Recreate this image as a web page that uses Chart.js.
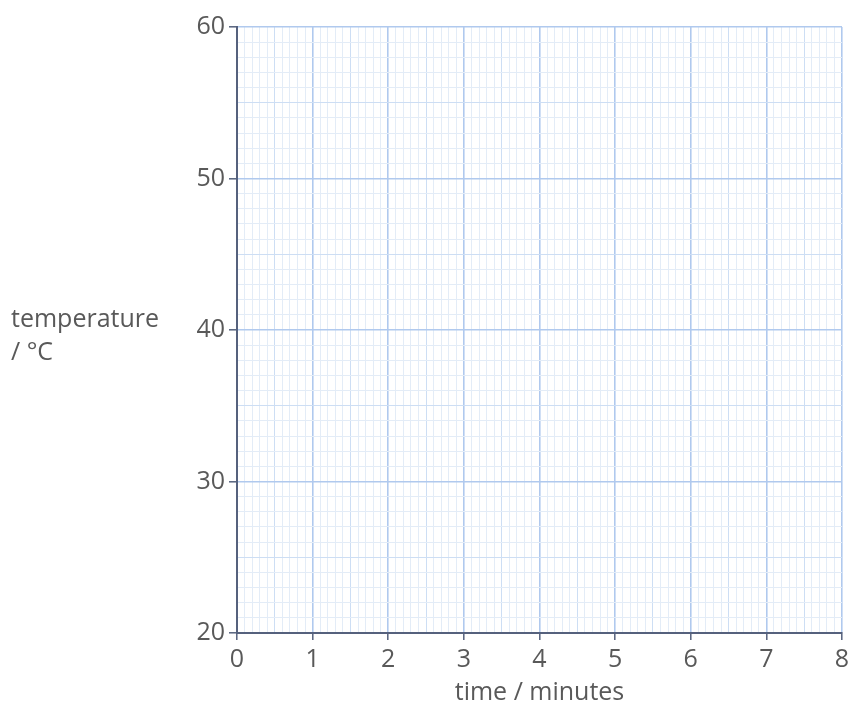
<!DOCTYPE html>
<html>
<head>
<meta charset="utf-8">
<script src="https://cdn.jsdelivr.net/npm/chart.js@4.4.1/dist/chart.umd.min.js"></script>
<style>
  html, body { margin: 0; padding: 0; background: #fff; }
  #wrap { width: 849px; height: 708px; }
</style>
</head>
<body>
<div id="wrap"><canvas id="myChart" width="849" height="708"></canvas></div>
<script>
// axis ranges and tick steps
const xRange = [0, 8];        // time / minutes
const yRange = [20, 60];      // temperature / °C
const xMinorStep = 0.1;
const yMinorStep = 1;
const yLabelEvery = 10;

// blank grid - no data plotted
const times = [];
const temps = [];

const yTitleLines = ['temperature', '/ °C'];
const xTitle = 'time / minutes';

const isMult = (v, m) => Math.abs(v / m - Math.round(v / m)) < 1e-6;

const majorBlue = '#b0c9ee';
const midBlue = '#cddef4';
const minorBlue = '#e3ecf7';
const axisColor = '#55617d';
const textColor = '#595959';
const fontFam = '"Open Sans", Lato, sans-serif';

const yTitlePlugin = {
  id: 'yTitle',
  afterDraw(chart) {
    const c = chart.ctx;
    c.save();
    c.fillStyle = textColor;
    c.font = '25px ' + fontFam;
    c.textBaseline = 'middle';
    c.textAlign = 'left';
    c.fillText(yTitleLines[0], 11, 320);
    c.fillText(yTitleLines[1], 11, 353);
    c.restore();
  }
};

const ctx = document.getElementById('myChart').getContext('2d');
const myChart = new Chart(ctx, {
  type: 'scatter',
  data: {
    datasets: [{
      data: times.map((t, i) => ({ x: t, y: temps[i] })),
      borderColor: '#333',
      backgroundColor: '#333'
    }]
  },
  plugins: [yTitlePlugin],
  options: {
    responsive: false,
    animation: false,
    layout: { padding: { top: 27, right: 7, left: 0, bottom: 0 } },
    plugins: { legend: { display: false }, tooltip: { enabled: false } },
    scales: {
      x: {
        type: 'linear',
        min: xRange[0],
        max: xRange[1],
        afterFit(scale) {
          scale.height = 75;
          scale.paddingRight = 0;
          scale.paddingLeft = 0;
        },
        border: { color: axisColor, width: 2 },
        grid: {
          color: c => isMult(c.tick.value, 1) ? majorBlue : (isMult(c.tick.value, 0.5) ? midBlue : minorBlue),
          lineWidth: c => isMult(c.tick.value, 1) ? 1.6 : 1,
          tickColor: c => isMult(c.tick.value, 1) ? axisColor : 'rgba(0,0,0,0)',
          tickLength: 7,
          tickWidth: 1.5
        },
        ticks: {
          stepSize: xMinorStep,
          autoSkip: false,
          maxRotation: 0,
          padding: 5,
          color: textColor,
          font: { family: fontFam, size: 25 },
          callback: v => isMult(v, 1) ? String(Math.round(v)) : ''
        },
        title: {
          display: true,
          text: xTitle,
          color: textColor,
          font: { family: fontFam, size: 25 },
          padding: { top: 0, bottom: 0 }
        }
      },
      y: {
        type: 'linear',
        min: yRange[0],
        max: yRange[1],
        afterFit(scale) { scale.width = 237; },
        border: { color: axisColor, width: 2 },
        grid: {
          color: c => isMult(c.tick.value, yLabelEvery) ? majorBlue : (isMult(c.tick.value, yLabelEvery / 2) ? midBlue : minorBlue),
          lineWidth: c => isMult(c.tick.value, yLabelEvery) ? 1.6 : 1,
          tickColor: c => isMult(c.tick.value, yLabelEvery) ? axisColor : 'rgba(0,0,0,0)',
          tickLength: 8,
          tickWidth: 1.5
        },
        ticks: {
          stepSize: yMinorStep,
          autoSkip: false,
          padding: 4,
          color: textColor,
          font: { family: fontFam, size: 25 },
          callback: v => isMult(v, yLabelEvery) ? String(Math.round(v)) : ''
        }
      }
    }
  }
});
</script>
</body>
</html>
